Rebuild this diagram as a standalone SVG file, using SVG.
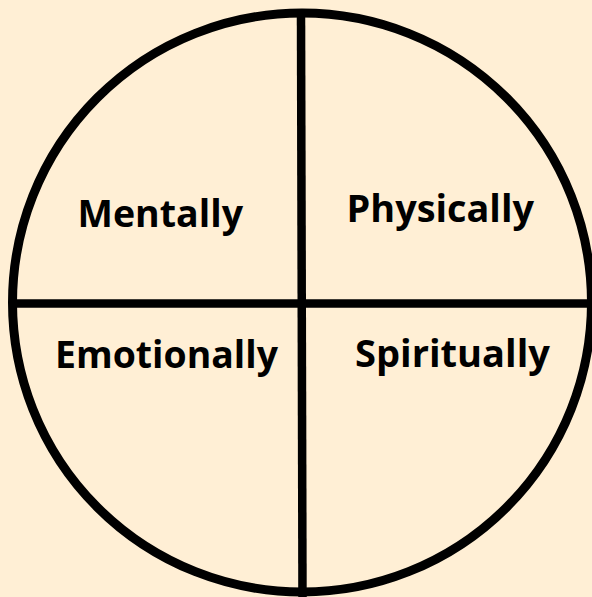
<svg xmlns="http://www.w3.org/2000/svg" width="592" height="597" viewBox="0 0 592 597">
<style>
.lbl{font-family:"Open Sans","Noto Sans","Liberation Sans",sans-serif;font-weight:700;font-size:37px;fill:#000}
.ln{stroke:#000;stroke-width:8.5;fill:none}
</style>
<rect width="592" height="597" fill="#FFEFD5"/>
<g id="circle">
<circle cx="302" cy="302.5" r="289.5" fill="#FFEFD5" stroke="#000" stroke-width="9"/>
</g>
<g id="connectors">
<line class="ln" x1="301" y1="13" x2="302.5" y2="597"/>
<line class="ln" x1="12" y1="303.5" x2="592" y2="303.5"/>
</g>
<g id="mentally"><text class="lbl" x="77.5" y="226.7" textLength="165.5" lengthAdjust="spacingAndGlyphs">Mentally</text></g>
<g id="physically"><text class="lbl" x="346.5" y="221.7" textLength="187.5" lengthAdjust="spacingAndGlyphs">Physically</text></g>
<g id="emotionally"><text class="lbl" x="55" y="368.3" textLength="223" lengthAdjust="spacingAndGlyphs">Emotionally</text></g>
<g id="spiritually"><text class="lbl" x="355" y="367.3" textLength="195" lengthAdjust="spacingAndGlyphs">Spiritually</text></g>
</svg>
